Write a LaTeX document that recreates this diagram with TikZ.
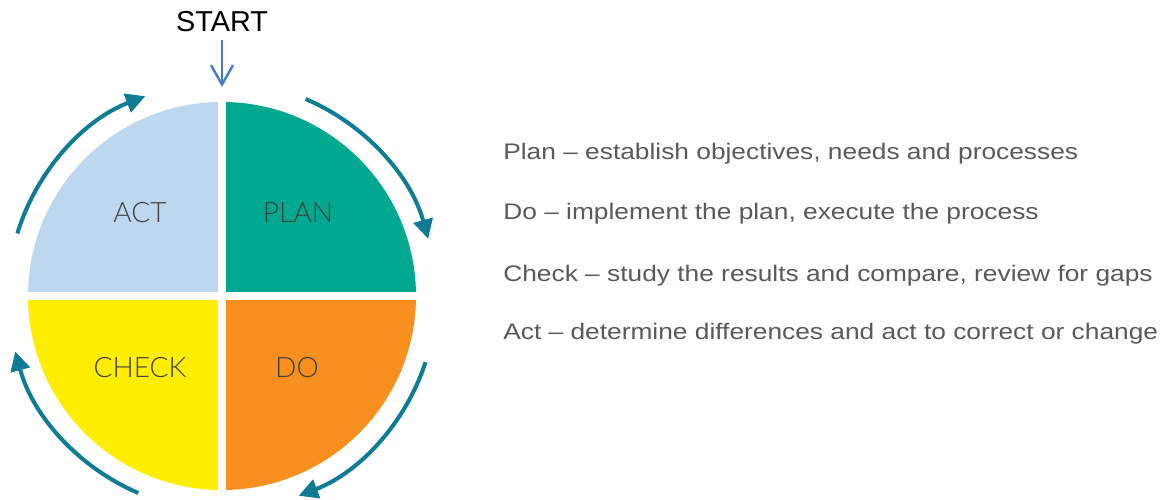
\documentclass[tikz,border=0pt]{standalone}
\usepackage{fontspec}
\setmainfont{Liberation Sans}
\newfontfamily\descfont[FakeStretch=1.17]{Liberation Sans}
\newfontfamily\quadfont{Lato Light}
\usetikzlibrary{arrows.meta}
\definecolor{actblue}{HTML}{BDD7EE}
\definecolor{planteal}{HTML}{00A88F}
\definecolor{checkyellow}{HTML}{FFEE00}
\definecolor{doorange}{HTML}{F7901E}
\definecolor{turnteal}{HTML}{0E7C95}
\definecolor{startblue}{HTML}{4A7DC0}
\definecolor{desctext}{HTML}{595959}
\tikzset{
  quadlabel/.style={font=\quadfont\fontsize{16}{19}\selectfont, text=black!75},
  turnarrow/.style={turnteal, line width=2.3pt, -{Triangle[length=11pt,width=11pt]}},
  desc/.style={font=\descfont\fontsize{12.8}{15}\selectfont, text=desctext, anchor=base west, inner sep=0pt}
}
\begin{document}
\begin{tikzpicture}[x=0.02cm,y=0.02cm]
\useasboundingbox (-222,-204) rectangle (954,296);
% quadrants
\foreach \a/\c in {90/planteal,0/doorange,270/checkyellow,180/actblue}
  \fill[\c] (0,0) -- (\a:194) arc[start angle=\a, delta angle=-90, radius=194] -- cycle;
\draw[white, line width=4.5pt] (-200,0) -- (200,0) (0,-200) -- (0,200);
\node[quadlabel] (act) at (-82,83) {ACT};
\node[quadlabel] (plan) at (76,83) {PLAN};
\node[quadlabel] (check) at (-82,-72) {CHECK};
\node[quadlabel] (do) at (75,-72) {DO};
% arrows round the circle
\foreach \s/\e in {163/111,67/15.5,-18/-69,247/195}
  \draw[turnarrow] (\s:214) arc[start angle=\s, end angle=\e, radius=214];
% start
\node[font=\fontsize{16.4}{19}\selectfont, anchor=base, inner sep=4pt] (start) at (0,264) {START};
\coordinate (top) at (0,209);
\draw[startblue, line width=1.4pt, -{Straight Barb[length=11pt,width=12.5pt]}] (start) -- (top);
% the four steps
\foreach \n/\y/\t in {plantxt/136/{Plan – establish objectives, needs and processes},
    dotxt/76/{Do – implement the plan, execute the process},
    checktxt/14/{Check – study the results and compare, review for gaps},
    acttxt/-44/{Act – determine differences and act to correct or change}}
  \node[desc] (\n) at (281,\y) {\t};
\end{tikzpicture}
\end{document}
